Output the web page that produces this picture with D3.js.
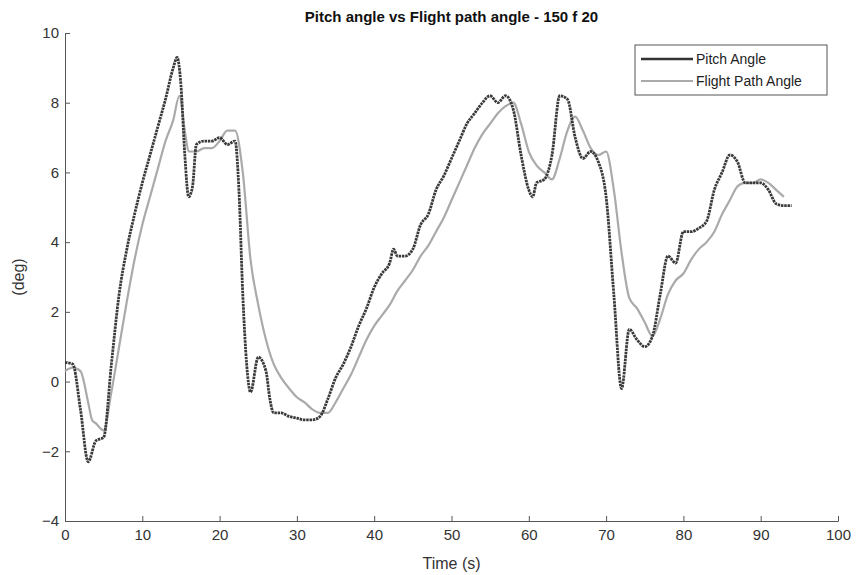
<!DOCTYPE html>
<html><head><meta charset="utf-8">
<style>body{margin:0;background:#fff}text{font-family:Arial,"Liberation Sans",sans-serif}</style>
</head><body>
<div id="chart"></div>
<script src="https://d3js.org/d3.v7.min.js"></script>
<script>
const pitchT = [0,1,2,3,4,5,6,7,8,9,10,11,12,13,14,14.5,15,15.5,16,16.5,17,18,19,20,21,22,22.5,23,23.5,24,25,26,26.5,27,28,29,30,31,32,33,34,35,36,37,38,39,40,41,42,42.5,43,44,45,46,47,48,49,50,51,52,53,54,55,56,57,58,59,60,60.5,61,62,63,64,65,66,67,68,69,70,71,72,73,74,75,76,77,78,79,80,81,82,83,84,85,86,87,88,89,90,91,92,93,94];
const pitchV = [0.55,0.5,-0.8,-2.3,-1.7,-1.6,0.5,2.5,3.8,4.8,5.7,6.5,7.3,8.1,9.0,9.3,8.5,6.5,5.3,5.6,6.8,6.9,6.9,7.0,6.8,6.9,5.5,2.5,0.5,-0.3,0.7,0.3,-0.5,-0.9,-0.9,-1.0,-1.05,-1.1,-1.1,-1.0,-0.5,0.1,0.5,1.0,1.6,2.1,2.7,3.1,3.4,3.8,3.6,3.6,3.8,4.5,4.8,5.5,5.9,6.4,6.9,7.4,7.7,8.0,8.2,8.0,8.2,7.8,6.5,5.5,5.3,5.7,5.8,6.5,8.2,8.1,7.0,6.4,6.6,6.3,5.3,2.5,-0.2,1.5,1.2,1.0,1.3,2.5,3.6,3.4,4.3,4.3,4.4,4.6,5.5,6.0,6.5,6.3,5.7,5.7,5.7,5.5,5.1,5.05,5.05];
const fpaT = [0,1,2,3,3.5,4,5,6,7,8,9,10,11,12,13,14,14.8,15.5,16,17,18,19,20,21,22,23,24,25,26,27,28,29,30,31,32,33,34,35,36,37,38,39,40,41,42,43,44,45,46,47,48,49,50,51,52,53,54,55,56,57,58,59,60,61,62,63,64,65,66,67,68,69,70,71,72,73,74,75,76,77,78,79,80,81,82,83,84,85,86,87,88,89,90,91,92,93];
const fpaV = [0.3,0.4,0.3,-0.6,-1.1,-1.2,-1.4,-0.3,1.0,2.3,3.5,4.5,5.3,6.1,6.9,7.5,8.2,7.2,6.6,6.6,6.7,6.7,6.9,7.2,7.2,6.0,3.5,2.2,1.2,0.5,0.1,-0.2,-0.45,-0.6,-0.8,-0.9,-0.9,-0.6,-0.2,0.2,0.7,1.2,1.6,1.9,2.2,2.6,2.9,3.2,3.6,3.9,4.3,4.7,5.2,5.7,6.2,6.7,7.1,7.4,7.7,7.9,8.0,7.4,6.6,6.2,6.0,5.8,6.4,7.2,7.6,7.2,6.7,6.5,6.6,5.5,3.7,2.4,2.1,1.7,1.3,1.8,2.5,2.9,3.1,3.5,3.8,4.0,4.3,4.8,5.2,5.6,5.7,5.7,5.8,5.7,5.5,5.3];
const xTicks = [0,10,20,30,40,50,60,70,80,90,100];
const yTicks = [-4,-2,0,2,4,6,8,10];

const W = 858, H = 575, m = {left:65, right:20, top:33, bottom:54};
const svg = d3.select("#chart").append("svg").attr("width",W).attr("height",H);
const x = d3.scaleLinear().domain([0,100]).range([m.left, W-m.right]);
const y = d3.scaleLinear().domain([-4,10]).range([H-m.bottom, m.top]);

const ax = svg.append("g").attr("transform",`translate(0,${H-m.bottom})`)
  .call(d3.axisBottom(x).tickValues(xTicks).tickSizeInner(-5).tickSizeOuter(0));
const ay = svg.append("g").attr("transform",`translate(${m.left},0)`)
  .call(d3.axisLeft(y).tickValues(yTicks).tickSizeInner(-5).tickSizeOuter(0));
[ax,ay].forEach(g=>{g.selectAll("path,line").attr("stroke","#555");
  g.selectAll("text").attr("font-size",15).attr("fill","#333");});
ax.selectAll("text").attr("dy","1.05em");
ay.selectAll("text").attr("dx","-0.2em");

const line = d3.line().curve(d3.curveMonotoneX);
svg.append("path").attr("fill","none").attr("stroke","#aaa").attr("stroke-width",2.2)
  .attr("d", line(fpaT.map((t,i)=>[x(t),y(fpaV[i])])));
svg.append("path").attr("fill","none").attr("stroke","#3a3a3a").attr("stroke-width",2.8)
  .attr("stroke-dasharray","2.5,0.8")
  .attr("d", line(pitchT.map((t,i)=>[x(t),y(pitchV[i])])));

svg.append("text").attr("x",(m.left+W-m.right)/2).attr("y",22).attr("text-anchor","middle")
  .attr("font-size",15).attr("font-weight","bold").attr("fill","#111").text("Pitch angle vs Flight path angle - 150 f 20");
svg.append("text").attr("x",(m.left+W-m.right)/2).attr("y",H-6).attr("text-anchor","middle")
  .attr("font-size",16).attr("fill","#333").text("Time (s)");
svg.append("text").attr("transform",`translate(24,${(m.top+H-m.bottom)/2}) rotate(-90)`)
  .attr("text-anchor","middle").attr("font-size",16).attr("fill","#333").text("(deg)");

const lg = svg.append("g").attr("transform","translate(635,45)");
lg.append("rect").attr("width",192).attr("height",50).attr("fill","#fff").attr("stroke","#555");
[["Pitch Angle","#333",2.6],["Flight Path Angle","#aaa",2.2]].forEach((d,i)=>{
  const yy = 14+i*22;
  lg.append("line").attr("x1",6).attr("x2",58).attr("y1",yy).attr("y2",yy).attr("stroke",d[1]).attr("stroke-width",d[2]);
  lg.append("text").attr("x",61).attr("y",yy+5).attr("font-size",14).attr("fill","#222").text(d[0]);
});
</script>
</body></html>
